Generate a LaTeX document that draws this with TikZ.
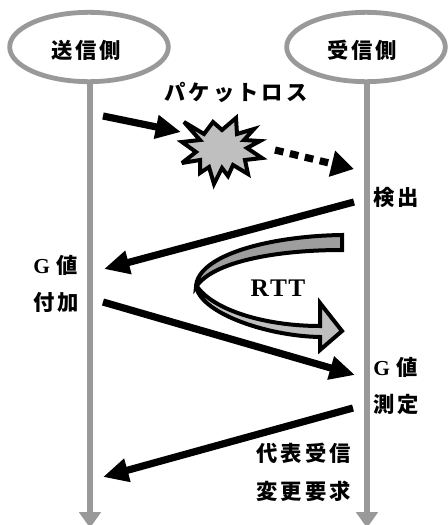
\documentclass[tikz,border=0pt]{standalone}
\usepackage{fontspec}
\usetikzlibrary{arrows.meta,shapes.geometric}
\setmainfont{Liberation Serif}
\newfontfamily\cjk[LetterSpace=14]{Noto Sans CJK JP}
\definecolor{lifegray}{gray}{0.6}
\definecolor{bandgray}{gray}{0.62}
\definecolor{lightgray}{gray}{0.75}
\tikzset{
	host/.style={draw=lifegray, line width=3.6pt, ellipse, minimum width=119pt, minimum height=52pt, inner sep=0pt},
	life/.style={lifegray, line width=5.2pt, -{Triangle[length=12pt,width=16pt]}},
	msg/.style={line width=5.4pt, -{Triangle[length=19pt,width=17pt]}},
	band/.style={line width=3pt, line join=miter, miter limit=4},
	lbl/.style={font=\cjk\bfseries\fontsize{16}{18}\selectfont, inner sep=0pt},
	lat/.style={font=\bfseries\fontsize{16}{18}\selectfont, inner sep=0pt}
}
\begin{document}
\begin{tikzpicture}[x=0.75pt,y=-0.75pt]
	\useasboundingbox (0,0) rectangle (447,525);
	\node[host] (S) at (89,47) {};
	\node[host] (R) at (366,47) {};
	\node[lbl] (S1) at (86,50) {送信側};
	\node[lbl] (R1) at (362,50) {受信側};
	\coordinate (S2) at (90,528);
	\coordinate (R2) at (367,528);
	\draw[life] (S.south -| S2) -- (S2);
	\draw[life] (R.south -| R2) -- (R2);

	\node[lbl] (L) at (236,92) {パケットロス};
	\coordinate (A) at (103,116);
	\coordinate (A1) at (181,132);
	\draw[msg] (A) -- (A1);
	\coordinate (B) at (275,150);
	\coordinate (B1) at (354,169);
	\draw[msg, -{Triangle[length=17pt,width=19pt]}, dash pattern=on 6.5pt off 5pt] (B) -- (B1);
	% burst
	\draw[fill=lightgray, band]
		(184,122) -- (204,134) -- (213,122) -- (222,130) -- (236,118) -- (237,134)
		-- (254,129) -- (244,140) -- (260,141) -- (247,148) -- (262,158) -- (245,160)
		-- (248,174) -- (233,165) -- (228,176) -- (222,168) -- (214,184) -- (209,167)
		-- (200,173) -- (200,160) -- (182,163) -- (196,152) -- (182,142) -- (200,140) -- cycle;

	\coordinate (C) at (354,202);
	\coordinate (C1) at (104,269);
	\draw[msg] (C) -- (C1);
	\coordinate (D) at (103,302);
	\coordinate (D1) at (355,375);
	\draw[msg] (D) -- (D1);
	\coordinate (E) at (353,408);
	\coordinate (E1) at (103,477);
	\draw[msg] (E) -- (E1);

	% RTT
	\draw[fill=bandgray, band]
		(342,235) .. controls (270,236) and (197,255) .. (196,287)
		.. controls (212,262) and (275,250) .. (342,250) -- cycle;
	\draw[fill=lightgray, band]
		(196,285) .. controls (198,312) and (265,336) .. (320,337) -- (320,350)
		-- (342,331) -- (320,303) -- (320,326) .. controls (265,326) and (212,310) .. (196,285) -- cycle;
	\node[lat] (T) at (278,288) {\fontsize{19}{22}\selectfont R\kern1pt T\kern1pt T};

	\node[lbl, anchor=west] (F) at (373,197) {検出};
	\node[lat, anchor=west] (G) at (33,265) {G\kern5pt{\cjk 値}};
	\node[lbl, anchor=west] (H) at (33,302) {付加};
	\node[lat, anchor=west] (I) at (373,367) {G\kern5pt{\cjk 値}};
	\node[lbl, anchor=west] (J) at (373,404) {測定};
	\node[lbl, anchor=east] (K) at (351,453) {代表受信};
	\node[lbl, anchor=east] (M) at (351,491) {変更要求};
\end{tikzpicture}
\end{document}
